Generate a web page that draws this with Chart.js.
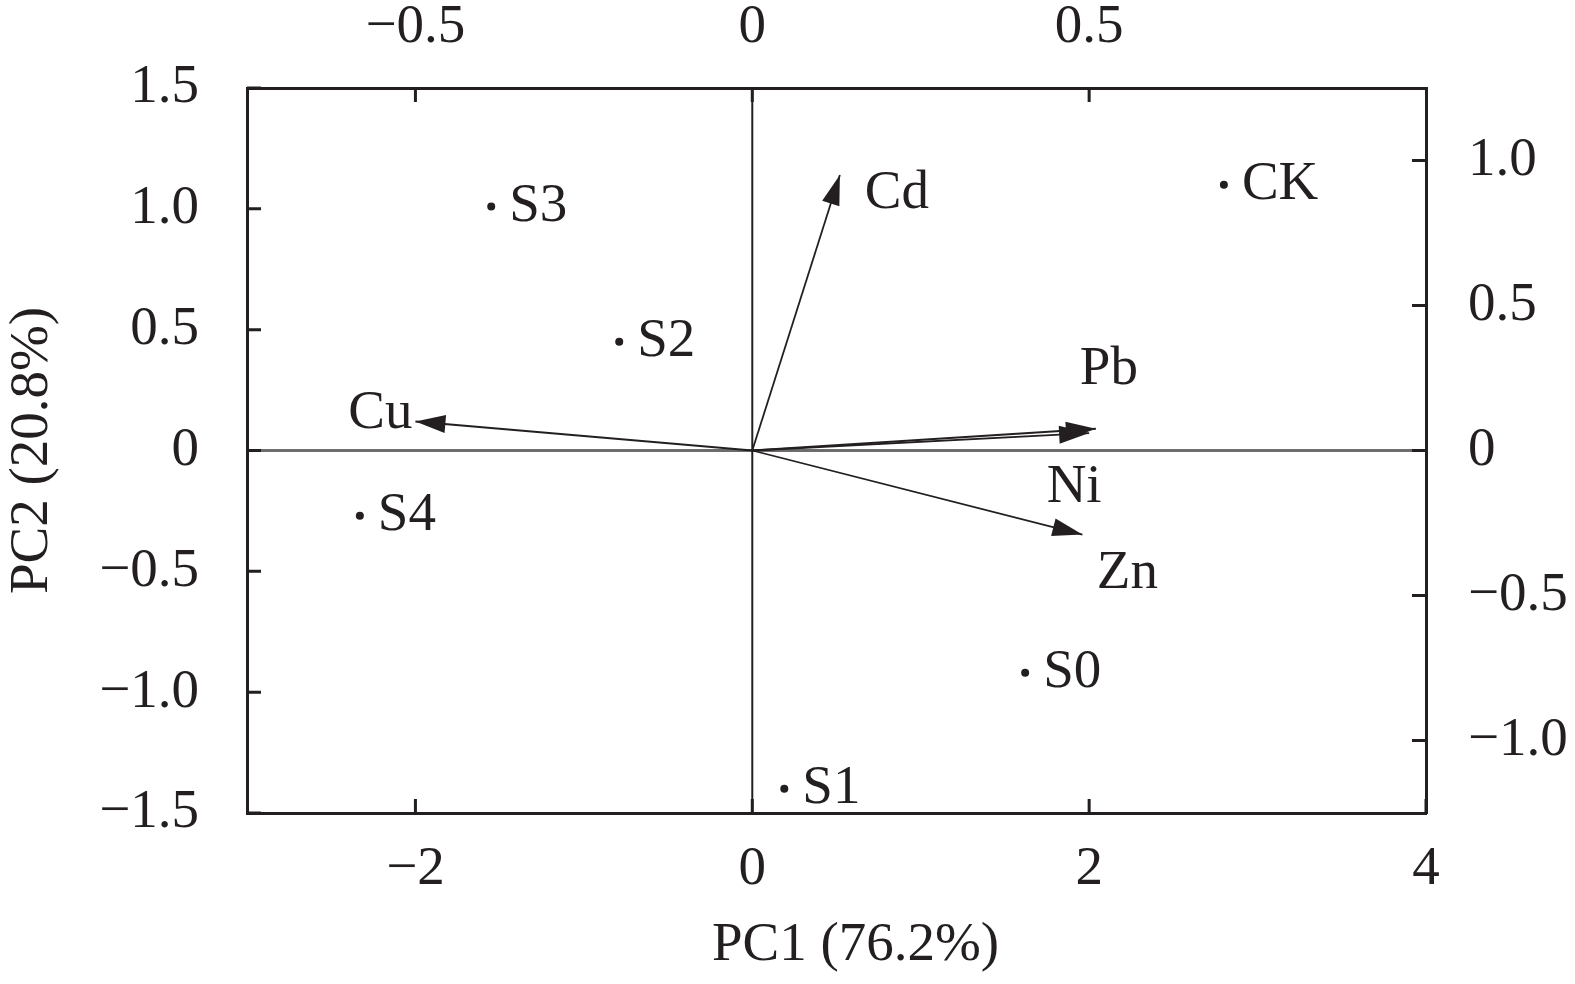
<!DOCTYPE html>
<html lang="en">
<head>
<meta charset="UTF-8">
<title>PCA biplot</title>
<script src="https://cdn.jsdelivr.net/npm/chart.js"></script>
<style>
    body { margin: 0; background: #fff; }
    .wrap { width: 1575px; height: 984px; }
</style>
</head>
<body>
<div class="wrap"><canvas id="pca"></canvas></div>
<script>
    // sample scores, bottom (PC1) / left (PC2) axes
    const sampleNames = ['CK', 'S0', 'S1', 'S2', 'S3', 'S4'];
    const samplePC1 = [2.80, 1.62, 0.19, -0.79, -1.55, -2.33];
    const samplePC2 = [1.10, -0.92, -1.40, 0.45, 1.01, -0.27];

    // variable loadings, top / right axes
    const varNames = ['Cd', 'Cu', 'Pb', 'Ni', 'Zn'];
    const varPC1 = [0.13, -0.50, 0.51, 0.50, 0.49];
    const varPC2 = [0.95, 0.10, 0.075, 0.06, -0.29];

    const bottomTicks = [-2, 0, 2, 4];
    const leftTicks = [-1.5, -1.0, -0.5, 0, 0.5, 1.0, 1.5];
    const topTicks = [-0.5, 0, 0.5];
    const rightTicks = [-1.0, -0.5, 0, 0.5, 1.0];

    const xTitle = 'PC1 (76.2%)';
    const yTitle = 'PC2 (20.8%)';

    // where the arrow names sit relative to the arrow tip (px)
    const varLabelShift = {
        Cd: [57, 19], Cu: [-35, -8], Pb: [13, -59], Ni: [-15, 54], Zn: [45, 39]
    };

    const INK = '#231f20';
    const FONT = { family: "'Liberation Serif', 'Times New Roman', serif", size: 55 };
    const FONT_CSS = `${FONT.size}px ${FONT.family}`;

    const minus = s => s.replace('-', '\u2212');
    const fmtInt = v => minus(String(v));
    const fmtDec = v => v === 0 ? '0' : minus(v.toFixed(1));
    const setTicks = list => scale => { scale.ticks = list.map(v => ({ value: v })); };

    function axis(position, min, max, ticks, fmt, padding, size, title) {
        const vertical = position === 'left' || position === 'right';
        return {
            type: 'linear',
            position: position,
            min: min,
            max: max,
            grid: { display: false, drawTicks: false },
            border: { display: true, color: INK, width: 3 },
            ticks: { font: FONT, color: INK, padding: padding, callback: fmt, maxRotation: 0 },
            afterBuildTicks: setTicks(ticks),
            afterFit: s => { if (vertical) s.width = size; else s.height = size; },
            title: title ? { display: true, text: title, font: FONT, color: INK, padding: 0 } : { display: false }
        };
    }

    // zero lines behind the data
    const zeroLines = {
        id: 'zeroLines',
        beforeDatasetsDraw(chart) {
            const { ctx, chartArea: a, scales } = chart;
            const y0 = scales.y.getPixelForValue(0);
            const x0 = scales.x.getPixelForValue(0);
            ctx.save();
            ctx.strokeStyle = '#6d6d6d';
            ctx.lineWidth = 3;
            ctx.beginPath();
            ctx.moveTo(a.left, y0);
            ctx.lineTo(a.right, y0);
            ctx.stroke();
            ctx.strokeStyle = INK;
            ctx.lineWidth = 2;
            ctx.beginPath();
            ctx.moveTo(x0, a.top);
            ctx.lineTo(x0, a.bottom);
            ctx.stroke();
            ctx.restore();
        }
    };

    // tick marks pointing into the plot, and the PC1 title (sits a bit right of centre)
    const axisDecor = {
        id: 'axisDecor',
        afterDraw(chart) {
            const { ctx, chartArea: a, scales } = chart;
            const len = 14;
            ctx.save();
            ctx.strokeStyle = INK;
            ctx.lineWidth = 3;
            ctx.beginPath();
            scales.x.ticks.forEach(t => {
                const p = scales.x.getPixelForValue(t.value);
                ctx.moveTo(p, a.bottom); ctx.lineTo(p, a.bottom - len);
            });
            scales.x2.ticks.forEach(t => {
                const p = scales.x2.getPixelForValue(t.value);
                ctx.moveTo(p, a.top); ctx.lineTo(p, a.top + len);
            });
            scales.y.ticks.forEach(t => {
                const p = scales.y.getPixelForValue(t.value);
                ctx.moveTo(a.left, p); ctx.lineTo(a.left + len, p);
            });
            scales.y2.ticks.forEach(t => {
                const p = scales.y2.getPixelForValue(t.value);
                ctx.moveTo(a.right, p); ctx.lineTo(a.right - len, p);
            });
            ctx.stroke();

            ctx.fillStyle = INK;
            ctx.font = FONT_CSS;
            ctx.textAlign = 'center';
            ctx.textBaseline = 'middle';
            ctx.fillText(xTitle, (a.left + a.right) / 2 + 19, scales.x.bottom - 38);
            ctx.restore();
        }
    };

    // arrow heads and text labels
    const biplotMarks = {
        id: 'biplotMarks',
        afterDatasetsDraw(chart) {
            const { ctx, scales } = chart;
            ctx.save();
            ctx.fillStyle = INK;
            ctx.font = FONT_CSS;
            ctx.textBaseline = 'middle';

            const ox = scales.x2.getPixelForValue(0);
            const oy = scales.y2.getPixelForValue(0);
            varNames.forEach((name, i) => {
                const tx = scales.x2.getPixelForValue(varPC1[i]);
                const ty = scales.y2.getPixelForValue(varPC2[i]);
                const ang = Math.atan2(ty - oy, tx - ox);
                const L = 30, W = 9;
                const bx = tx - L * Math.cos(ang), by = ty - L * Math.sin(ang);
                ctx.beginPath();
                ctx.moveTo(tx, ty);
                ctx.lineTo(bx + W * Math.sin(ang), by - W * Math.cos(ang));
                ctx.lineTo(bx - W * Math.sin(ang), by + W * Math.cos(ang));
                ctx.closePath();
                ctx.fill();
                const [dx, dy] = varLabelShift[name];
                ctx.textAlign = 'center';
                ctx.fillText(name, tx + dx, ty + dy);
            });

            ctx.textAlign = 'left';
            sampleNames.forEach((name, i) => {
                const px = scales.x.getPixelForValue(samplePC1[i]);
                const py = scales.y.getPixelForValue(samplePC2[i]);
                ctx.fillText(name, px + 18, py);
            });
            ctx.restore();
        }
    };

    const datasets = [{
        type: 'scatter',
        label: 'samples',
        data: samplePC1.map((v, i) => ({ x: v, y: samplePC2[i] })),
        xAxisID: 'x',
        yAxisID: 'y',
        pointRadius: 4,
        pointBackgroundColor: INK,
        pointBorderWidth: 0
    }];
    varNames.forEach((name, i) => {
        datasets.push({
            type: 'line',
            label: name,
            data: [{ x: 0, y: 0 }, { x: varPC1[i], y: varPC2[i] }],
            xAxisID: 'x2',
            yAxisID: 'y2',
            borderColor: INK,
            borderWidth: 1.8,
            pointRadius: 0,
            fill: false
        });
    });

    new Chart(document.getElementById('pca'), {
        data: { datasets: datasets },
        options: {
            responsive: true,
            maintainAspectRatio: false,
            animation: false,
            layout: { padding: 0 },
            plugins: { legend: { display: false }, tooltip: { enabled: false } },
            scales: {
                x: axis('bottom', -3, 4, bottomTicks, fmtInt, 24, 171, null),
                y: axis('left', -1.5, 1.5, leftTicks, fmtDec, 48, 247, yTitle),
                x2: axis('top', -0.75, 1.0, topTicks, fmtDec, 27, 88, null),
                y2: axis('right', -1.25, 1.25, rightTicks, fmtDec, 42, 149, null)
            }
        },
        plugins: [zeroLines, axisDecor, biplotMarks]
    });
</script>
</body>
</html>
